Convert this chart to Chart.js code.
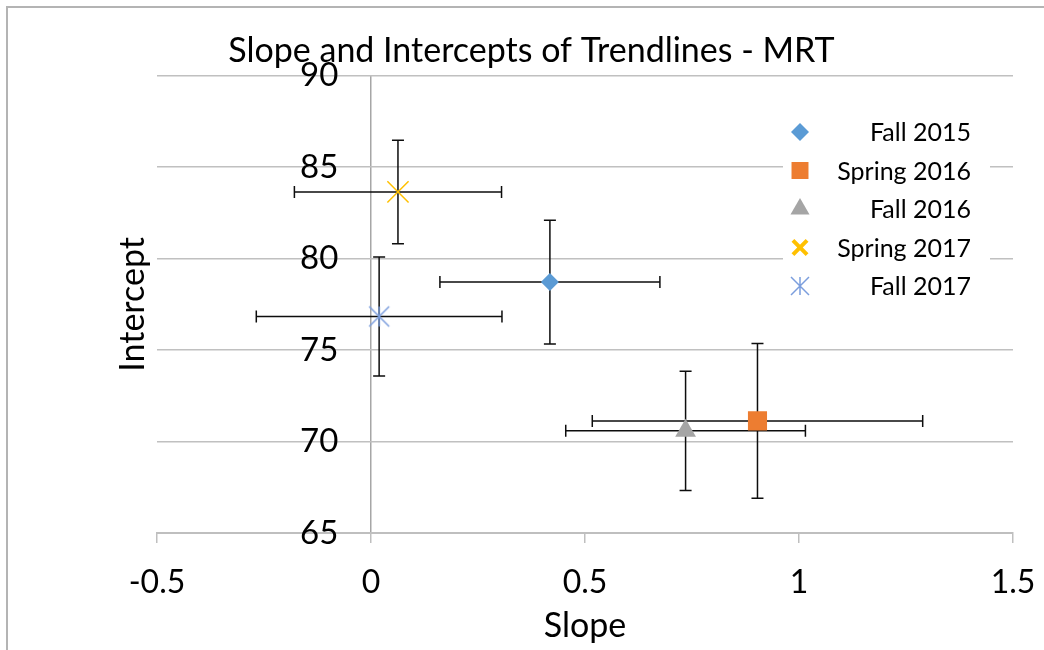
<!DOCTYPE html>
<html>
<head>
<meta charset="utf-8">
<title>Slope and Intercepts of Trendlines - MRT</title>
<script src="https://cdn.jsdelivr.net/npm/chart.js@4.4.1/dist/chart.umd.min.js"></script>
<style>
  html, body { margin: 0; padding: 0; background: #fff; overflow: hidden; }
  #wrap { position: relative; width: 1044px; height: 650px; overflow: hidden; }
  #frame {
    position: absolute; left: 6px; top: 6px; width: 1100px; height: 700px;
    border-left: 2px solid #b4b4b4; border-top: 2px solid #b4b4b4;
    pointer-events: none;
  }
</style>
</head>
<body>
<div id="wrap">
  <canvas id="trendChart" width="1044" height="650"></canvas>
  <div id="frame"></div>
</div>
<script>
const seriesNames = ["Fall 2015", "Spring 2016", "Fall 2016", "Spring 2017", "Fall 2017"];
const slopes = [0.418, 0.903, 0.735, 0.063, 0.019];
const intercepts = [78.72, 71.13, 70.59, 83.65, 76.84];
const slopeErrors = [0.257, 0.386, 0.28, 0.242, 0.287];
const interceptErrors = [3.38, 4.23, 3.26, 2.83, 3.25];
const xTicks = [-0.5, 0, 0.5, 1, 1.5];
const yTicks = [65, 70, 75, 80, 85, 90];

// asterisk marker: an X to the corners plus a vertical stroke
function asteriskMarker(size, color, width) {
  const c = document.createElement("canvas");
  c.width = c.height = size;
  const g = c.getContext("2d");
  const m = size / 2, r = size / 2 - 2;
  g.strokeStyle = color;
  g.lineWidth = width;
  g.beginPath();
  g.moveTo(m - r, m - r); g.lineTo(m + r, m + r);
  g.moveTo(m + r, m - r); g.lineTo(m - r, m + r);
  g.moveTo(m, m - r); g.lineTo(m, m + r);
  g.stroke();
  return c;
}

const colors = ["#5B9BD5", "#ED7D31", "#A5A5A5", "#FFC000", "#7B9EDD"];
const pointStyles = ["rectRot", "rect", "triangle", "crossRot", asteriskMarker(24, "#7B9EDD", 1.5)];
const pointRadii = [9, 13.5, 12, 15, 10];
const pointBorders = [0, 0, 0, 1.5, 0];

// legend markers are a bit heavier for the X
const legendStyles = ["rectRot", "rect", "triangle", "crossRot", asteriskMarker(22, "#7B9EDD", 1.5)];
const legendRadii = [9, 12, 11, 10, 10];
const legendBorders = [0, 0, 0, 4, 0];

const FONT = "Lato, 'Open Sans', sans-serif";
Chart.defaults.font.family = FONT;
Chart.defaults.color = "#000";

const errorBars = {
  id: "errorBars",
  beforeDatasetsDraw(chart) {
    const { ctx, scales: { x, y } } = chart;
    const cap = 6;
    ctx.save();
    ctx.strokeStyle = "#0d0d0d";
    ctx.lineWidth = 1.5;
    chart.data.datasets.forEach((ds) => {
      ds.data.forEach((p) => {
        const px = x.getPixelForValue(p.x);
        const py = y.getPixelForValue(p.y);
        const x0 = x.getPixelForValue(p.x - p.xErr);
        const x1 = x.getPixelForValue(p.x + p.xErr);
        const y0 = y.getPixelForValue(p.y + p.yErr);
        const y1 = y.getPixelForValue(p.y - p.yErr);
        ctx.beginPath();
        ctx.moveTo(x0, py); ctx.lineTo(x1, py);
        ctx.moveTo(x0, py - cap); ctx.lineTo(x0, py + cap);
        ctx.moveTo(x1, py - cap); ctx.lineTo(x1, py + cap);
        ctx.moveTo(px, y0); ctx.lineTo(px, y1);
        ctx.moveTo(px - cap, y0); ctx.lineTo(px + cap, y0);
        ctx.moveTo(px - cap, y1); ctx.lineTo(px + cap, y1);
        ctx.stroke();
      });
    });
    ctx.restore();
  }
};

const insideLegend = {
  id: "insideLegend",
  afterDraw(chart) {
    const ctx = chart.ctx;
    const markerX = 800, textRight = 971, top = 132, rowGap = 38.5;
    ctx.save();
    ctx.fillStyle = "#fff";
    ctx.fillRect(783, top - 20, 207, rowGap * 4 + 40);
    chart.data.datasets.forEach((ds, i) => {
      const y = top + i * rowGap;
      ctx.fillStyle = ds.backgroundColor;
      ctx.strokeStyle = ds.borderColor;
      ctx.lineWidth = legendBorders[i];
      Chart.helpers.drawPoint(ctx, {
        pointStyle: legendStyles[i],
        radius: legendRadii[i],
        borderWidth: legendBorders[i],
        rotation: 0
      }, markerX, y);
      ctx.fillStyle = "#000";
      ctx.font = "25px " + FONT;
      ctx.textAlign = "right";
      ctx.textBaseline = "middle";
      ctx.fillText(ds.label, textRight, y + 1);
    });
    ctx.restore();
  }
};

const datasets = seriesNames.map((name, i) => ({
  label: name,
  data: [{ x: slopes[i], y: intercepts[i], xErr: slopeErrors[i], yErr: interceptErrors[i] }],
  pointStyle: pointStyles[i],
  pointRadius: pointRadii[i],
  pointHoverRadius: pointRadii[i],
  pointBorderWidth: pointBorders[i],
  backgroundColor: colors[i],
  borderColor: colors[i],
  showLine: false
}));

new Chart(document.getElementById("trendChart"), {
  type: "scatter",
  data: { datasets },
  plugins: [errorBars, insideLegend],
  options: {
    responsive: false,
    animation: false,
    layout: { padding: { left: 50, right: 31, top: 0, bottom: 4 } },
    plugins: {
      legend: { display: false },
      tooltip: { enabled: false },
      title: {
        display: true,
        text: "Slope and Intercepts of Trendlines - MRT",
        color: "#000",
        font: { size: 34, weight: "normal" },
        padding: { top: 31, bottom: 4 }
      }
    },
    scales: {
      x: {
        type: "linear",
        min: -0.5,
        max: 1.5,
        afterBuildTicks: (s) => { s.ticks = xTicks.map((v) => ({ value: v })); },
        afterFit: (s) => {
          s.height = 113;
          s.paddingLeft = 0;
          s.paddingRight = 0;
        },
        grid: {
          drawOnChartArea: true,
          color: (c) => (c.tick && c.tick.value === 0 ? "#a6a6a6" : "rgba(0,0,0,0)"),
          tickColor: "#bfbfbf",
          tickLength: 10,
          lineWidth: 1.5
        },
        border: { color: "#bfbfbf", width: 2 },
        ticks: {
          font: { size: 32 },
          padding: 20,
          callback: (v) => String(v)
        },
        title: {
          display: true,
          text: "Slope",
          font: { size: 34 },
          padding: { top: 4, bottom: 0 }
        }
      },
      y: {
        type: "linear",
        position: "left",
        min: 65,
        max: 90,
        afterBuildTicks: (s) => { s.ticks = yTicks.map((v) => ({ value: v })); },
        afterFit: (s) => {
          s.width = 107;
          s.paddingTop = 0;
          s.paddingBottom = 0;
        },
        grid: { color: "#c0c0c0", lineWidth: 1.5, drawTicks: false },
        border: { display: false },
        ticks: {
          mirror: true,
          padding: 143,
          font: { size: 33 },
          callback: (v) => String(v)
        },
        title: {
          display: true,
          text: "Intercept",
          font: { size: 34 },
          padding: { top: 63, bottom: 4 }
        }
      }
    }
  }
});
</script>
</body>
</html>
